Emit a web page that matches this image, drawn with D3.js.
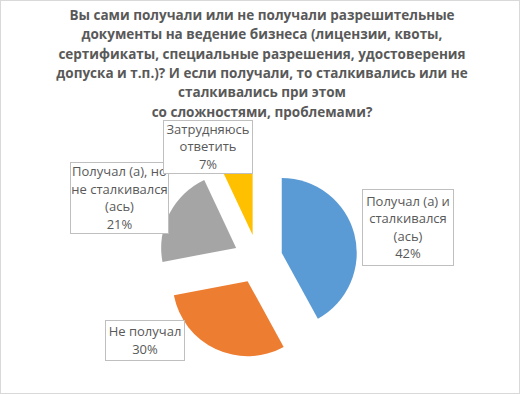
<!DOCTYPE html>
<html>
<head>
<meta charset="utf-8">
<script src="https://cdn.jsdelivr.net/npm/d3@7"></script>
<style>
  body { margin: 0; background: #fff; }
  svg { display: block; font-family: "Open Sans", sans-serif; }
</style>
</head>
<body>
<div id="chart"></div>
<script>
var titleLines = [
  "Вы сами получали или не получали разрешительные",
  "документы на ведение бизнеса (лицензии, квоты,",
  "сертификаты, специальные разрешения, удостоверения",
  "допуска и т.п.)? И если получали, то сталкивались или не",
  "сталкивались при этом",
  "со сложностями, проблемами?"
];
var categories = [
  "Получал (а) и сталкивался (ась)",
  "Не получал",
  "Получал (а), но не сталкивался (ась)",
  "Затрудняюсь ответить"
];
var values = [42, 30, 21, 7];
var labelLines = [
  ["Получал (а) и", "сталкивался", "(ась)"],
  ["Не получал"],
  ["Получал (а), но", "не сталкивался", "(ась)"],
  ["Затрудняюсь", "ответить"]
];
var colors = ["#5B9BD5", "#ED7D31", "#A5A5A5", "#FFC000"];

// label boxes (x, y, w, h), hand placed like in the original
var boxes = [
  {x: 362, y: 189, w: 91, h: 76},
  {x: 105, y: 320, w: 79, h: 40},
  {x: 70, y: 162, w: 98, h: 71},
  {x: 163, y: 120, w: 89, h: 53}
];

var width = 520, height = 394;
var cx = 258, cy = 259, radius = 75, explode = 24.5;

var svg = d3.select("#chart").append("svg")
  .attr("width", width).attr("height", height);

svg.append("rect")
  .attr("x", 0.5).attr("y", 0.5)
  .attr("width", width - 1).attr("height", height - 1)
  .style("fill", "#fff").style("stroke", "#d9d9d9");

var title = svg.append("text")
  .attr("text-anchor", "middle")
  .style("font-weight", "bold")
  .style("font-size", "13.5px")
  .style("fill", "#595959");
title.selectAll("tspan").data(titleLines).enter().append("tspan")
  .attr("x", 262)
  .attr("y", function(d, i){ return 20 + i * 19.3; })
  .text(function(d){ return d; });

var pie = d3.pie().sort(null).value(function(d){ return d; });
var arcs = pie(values);
var arc = d3.arc().innerRadius(0).outerRadius(radius);

var g = svg.append("g").attr("transform", "translate(" + cx + "," + cy + ")");
g.selectAll("path").data(arcs).enter().append("path")
  .attr("d", arc)
  .attr("transform", function(d){
    var a = (d.startAngle + d.endAngle) / 2;
    return "translate(" + (Math.sin(a) * explode) + "," + (-Math.cos(a) * explode) + ")";
  })
  .style("fill", function(d, i){ return colors[i]; });

var lbl = svg.selectAll("g.lbl").data(arcs).enter().append("g")
  .attr("class", "lbl")
  .attr("transform", function(d, i){ return "translate(" + boxes[i].x + "," + boxes[i].y + ")"; });

lbl.append("rect")
  .attr("x", 0.5).attr("y", 0.5)
  .attr("width", function(d, i){ return boxes[i].w; })
  .attr("height", function(d, i){ return boxes[i].h; })
  .style("fill", "#fff")
  .style("stroke", "#bfbfbf");

lbl.append("text")
  .attr("text-anchor", "middle")
  .style("font-size", "13px")
  .style("fill", "#595959")
  .each(function(d, i){
    var lines = labelLines[i].concat([values[i] + "%"]);
    var t = d3.select(this);
    var h = boxes[i].h;
    var top = (h - lines.length * 17.5) / 2;
    lines.forEach(function(s, k){
      t.append("tspan")
        .attr("x", boxes[i].w / 2 + 0.5)
        .attr("y", top + k * 17.5 + 13.5)
        .text(s);
    });
  });
</script>
</body>
</html>
